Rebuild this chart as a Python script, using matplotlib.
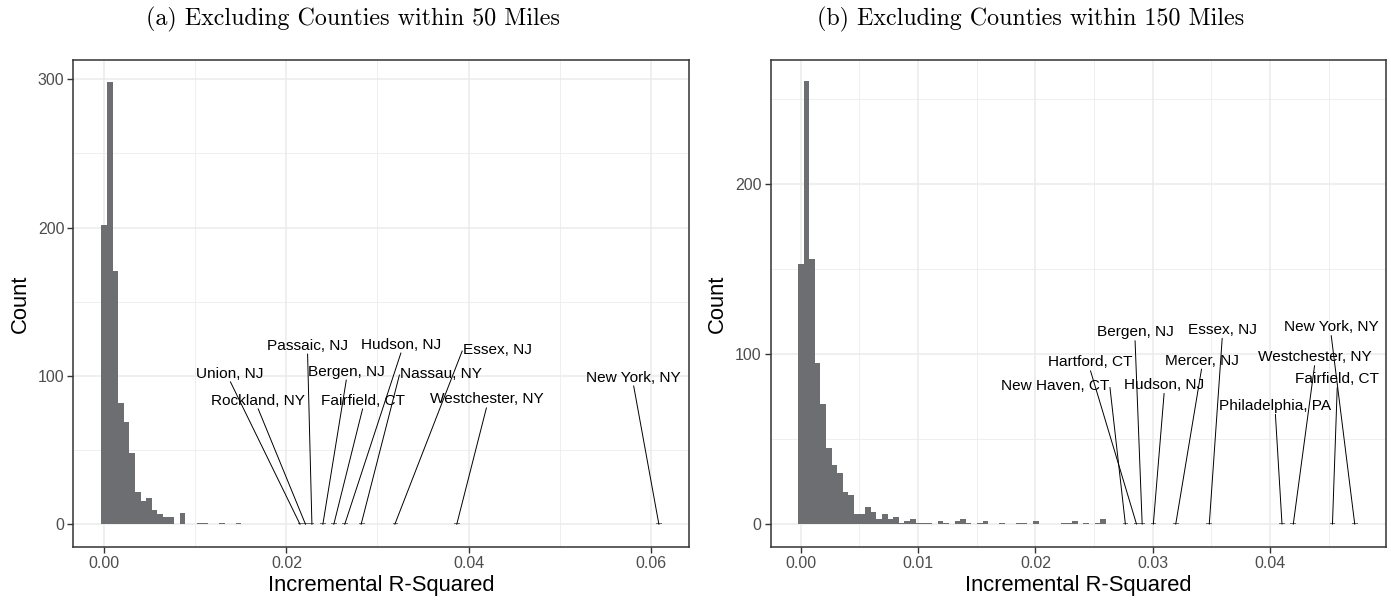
import numpy as np
import matplotlib
matplotlib.use("Agg")
import matplotlib.pyplot as plt

# bin counts of the bulk of each histogram, from the first bin (centred at 0)
counts_a = [202, 298, 171, 82, 69, 48, 22, 16, 18, 10, 7, 5, 5, 0, 8,
            0, 0, 1, 1, 0, 0, 1, 0, 0, 1]
counts_b = [153, 261, 156, 95, 71, 45, 35, 30, 19, 17, 6, 6, 10, 7, 3,
            6, 3, 4, 1, 2, 3, 1, 1, 1, 0, 2, 1, 0, 2, 3,
            1, 0, 1, 2, 0, 0, 1, 0, 0, 1, 1, 0, 2, 0, 0,
            0, 0, 1, 1, 2, 0, 1, 0, 1, 3]
binw_a = 0.000615
binw_b = 0.000477
nbins = 100

# labelled counties (incremental R-squared)
names_a = ["Union, NJ", "Rockland, NY", "Passaic, NJ", "Bergen, NJ", "Fairfield, CT",
           "Hudson, NJ", "Nassau, NY", "Essex, NJ", "Westchester, NY", "New York, NY"]
vals_a = [0.0215, 0.0221, 0.0228, 0.0240, 0.0252, 0.0264, 0.0282, 0.0319, 0.0387, 0.0609]

names_b = ["New Haven, CT", "Hartford, CT", "Bergen, NJ", "Hudson, NJ", "Mercer, NJ",
           "Essex, NJ", "Philadelphia, PA", "Westchester, NY", "Fairfield, CT", "New York, NY"]
vals_b = [0.02767, 0.02862, 0.02910, 0.03005, 0.03196, 0.03482, 0.04102, 0.04198, 0.04532, 0.04722]

# where the repelled labels sit (data coords) and where their segment leaves the text
lab_a = [(0.01378, 101.7), (0.01684, 83.5), (0.02232, 120.5), (0.0266, 103.0), (0.0284, 83.5),
         (0.03262, 121.2), (0.03695, 101.7), (0.04314, 117.8), (0.0420, 84.2), (0.0581, 99.0)]
rel_a = [(0.5, 0)] * 6 + [(0, 0.5), (0, 0.5), (0.5, 0), (0.5, 0)]
lab_b = [(0.02172, 81.3), (0.02466, 95.2), (0.02849, 112.9), (0.03098, 81.9), (0.03418, 96.2),
         (0.03593, 114.3), (0.04045, 69.6), (0.04381, 98.2), (0.04573, 85.3), (0.04520, 115.9)]
rel_b = [(1, 0.5)] + [(0.5, 0)] * 9

titles = ["(a) Excluding Counties within 50 Miles", "(b) Excluding Counties within 150 Miles"]

plt.rcParams["font.family"] = ["Liberation Sans", "DejaVu Sans"]
bar_col = "#6D6E72"
grid_col = "#EBEBEB"
dark = "#333333"

fig = plt.figure(figsize=(13.91, 6.01), dpi=100)
ax1 = fig.add_axes([0.0527, 0.0904, 0.4426, 0.8098])
ax2 = fig.add_axes([0.5541, 0.0904, 0.4421, 0.8098])


def draw(ax, counts, binw, names, vals, labs, rels, xlim, ylim, xmaj, xmin, ymaj, ymin, fmt):
    edges = (np.arange(nbins + 1) - 0.5) * binw
    full = np.zeros(nbins)
    full[:len(counts)] = counts
    extra, _ = np.histogram(vals, bins=edges)
    full = full + extra
    centres = np.arange(nbins) * binw
    keep = full > 0
    ax.bar(centres[keep], full[keep], width=binw, color=bar_col, linewidth=0, zorder=2)

    for name, v, (lx, ly), rp in zip(names, vals, labs, rels):
        ax.annotate(name, xy=(v, 0), xytext=(lx, ly), ha="center", va="center",
                    fontsize=11.1, color="black", zorder=4,
                    arrowprops=dict(arrowstyle="-", color="black", lw=0.7,
                                    patchA=None, shrinkA=1, shrinkB=0, relpos=rp))

    ax.set_xlim(*xlim)
    ax.set_ylim(*ylim)
    ax.set_xticks(xmaj)
    ax.set_xticklabels([fmt % t for t in xmaj])
    ax.set_xticks(xmin, minor=True)
    ax.set_yticks(ymaj)
    ax.set_yticks(ymin, minor=True)
    ax.grid(True, which="major", color=grid_col, lw=1.1, zorder=0)
    ax.grid(True, which="minor", color=grid_col, lw=0.55, zorder=0)
    ax.set_axisbelow(True)
    ax.tick_params(which="major", length=4, width=1, color=dark, labelcolor="#4D4D4D",
                   labelsize=11.5, pad=2.5)
    ax.tick_params(which="minor", length=0)
    for s in ax.spines.values():
        s.set_color(dark)
        s.set_linewidth(1.1)
    ax.set_xlabel("Incremental R-Squared", fontsize=15.8, labelpad=3)
    ax.set_ylabel("Count", fontsize=15.8, labelpad=5)


draw(ax1, counts_a, binw_a, names_a, vals_a, lab_a, rel_a,
     (-0.0034, 0.0642), (-15, 313),
     [0, 0.02, 0.04, 0.06], [0.01, 0.03, 0.05], [0, 100, 200, 300], [50, 150, 250], "%.2f")
draw(ax2, counts_b, binw_b, names_b, vals_b, lab_b, rel_b,
     (-0.00256, 0.04986), (-13.2, 273.1),
     [0, 0.01, 0.02, 0.03, 0.04], [0.005, 0.015, 0.025, 0.035, 0.045],
     [0, 100, 200], [50, 150, 250], "%.2f")

fig.text(0.254, 0.968, titles[0], ha="center", va="center", fontsize=17.3, family="cmr10")
fig.text(0.741, 0.968, titles[1], ha="center", va="center", fontsize=17.3, family="cmr10")

fig.savefig("out.png", dpi=100)
